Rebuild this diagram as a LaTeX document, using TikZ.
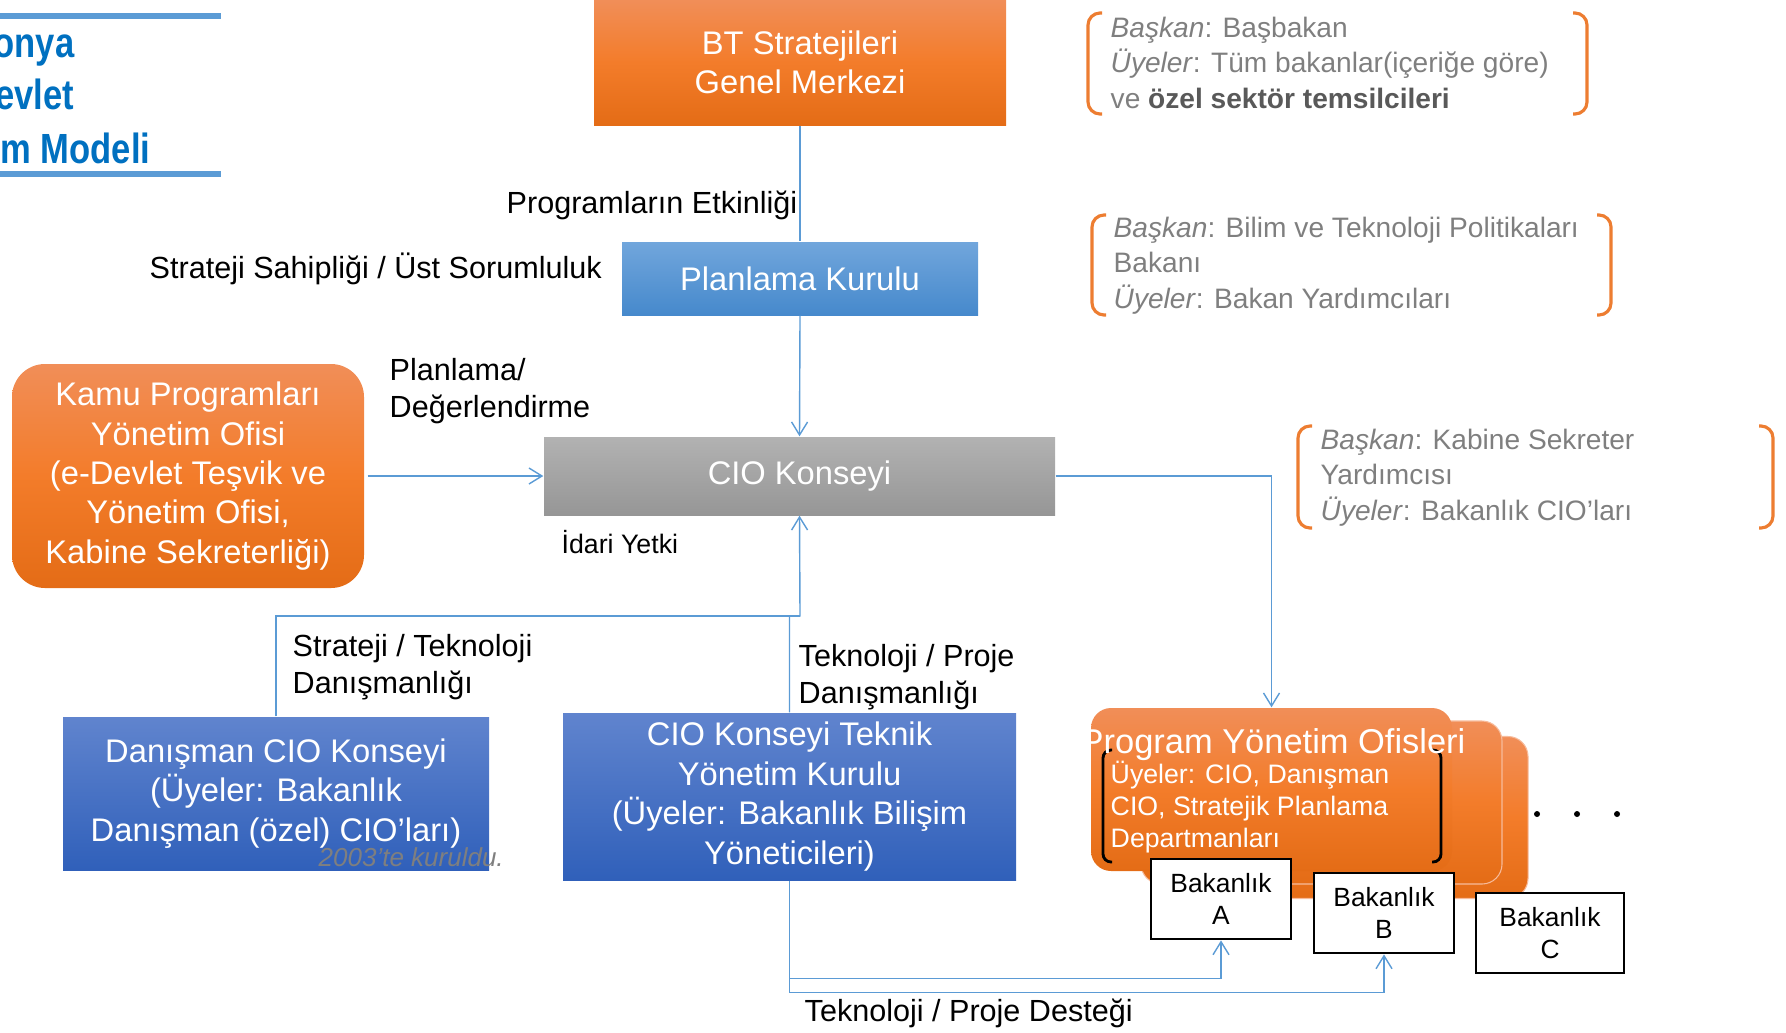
\documentclass[tikz,border=0pt]{standalone}
\usepackage{fontspec}
\setmainfont{Liberation Sans}
\newfontfamily\narrowsans[FakeStretch=0.82]{Liberation Sans}
\usepackage{xcolor}
\usetikzlibrary{shapes,arrows,positioning,calc,arrows.meta}

\definecolor{orTop}{RGB}{241,142,88}
\definecolor{orMid}{RGB}{243,124,42}
\definecolor{orBot}{RGB}{228,108,22}
\definecolor{blTop}{RGB}{113,166,220}
\definecolor{blBot}{RGB}{70,137,204}
\definecolor{dbTop}{RGB}{96,132,206}
\definecolor{dbBot}{RGB}{48,96,186}
\definecolor{gyTop}{RGB}{178,178,178}
\definecolor{gyBot}{RGB}{150,150,150}
\definecolor{lnBlue}{RGB}{91,155,213}
\definecolor{ttlBlue}{RGB}{0,112,192}
\definecolor{noteGray}{RGB}{127,127,127}
\definecolor{noteDark}{RGB}{89,89,89}
\definecolor{brkOrange}{RGB}{237,125,49}

\newcommand\boxtxt{\fontsize{9.3}{11.2}\selectfont}
\newcommand\lbltxt{\fontsize{8.7}{10.3}\selectfont}
\newcommand\notetxt{\fontsize{8}{10}\selectfont}
\newcommand\smalltxt{\fontsize{7.5}{8.9}\selectfont}
\newcommand\uyetxt{\fontsize{7.6}{9}\selectfont}
\newcommand\pyotxt{\fontsize{9.8}{11}\selectfont}
\newcommand\ttltxt{\narrowsans\bfseries\fontsize{12}{15}\selectfont}

\begin{document}
\begin{tikzpicture}[x=0.1mm, y=-0.1mm,
    box/.style={inner sep=0pt, align=center, text=white, font=\boxtxt},
    orbox/.style={box, top color=orTop, bottom color=orBot, middle color=orMid},
    lbbox/.style={box, top color=blTop, bottom color=blBot},
    dbbox/.style={box, top color=dbTop, bottom color=dbBot},
    gybox/.style={box, top color=gyTop, bottom color=gyBot},
    link/.style={draw=lnBlue, line width=0.4pt},
    arr/.style={link, -{Straight Barb[length=1.3mm, width=1.6mm]}},
    lbl/.style={anchor=base west, inner sep=0pt, align=left, font=\lbltxt},
    note/.style={anchor=base west, inner sep=0pt, align=left, font=\notetxt, text=noteGray},
    brk/.style={draw=brkOrange, line width=0.9pt, rounded corners=1.2mm},
    bknbox/.style={draw=black, line width=0.8pt, fill=white, inner sep=0pt, align=center,
        font=\smalltxt, minimum width=14mm, minimum height=8mm}]
    \useasboundingbox (0,0) rectangle (1786,1032);

    % Title (cut at the left edge)
    \draw[lnBlue, line width=0.6mm] (0,16) -- (221,16);
    \draw[lnBlue, line width=0.6mm] (0,174) -- (221,174);
    \node[anchor=base east, inner sep=0pt, font=\ttltxt, text=ttlBlue] (ttlA) at (75,57) {onya};
    \node[anchor=base east, inner sep=0pt, font=\ttltxt, text=ttlBlue] (ttlB) at (75,109) {evlet};
    \node[anchor=base east, inner sep=0pt, font=\ttltxt, text=ttlBlue] (ttlC) at (151,163) {m Modeli};

    % Main boxes
    \node[orbox, minimum width=41.2mm, minimum height=12.5mm] (bt) at (800,62.5) {BT Stratejileri\\Genel Merkezi};
    \node[lbbox, minimum width=35.6mm, minimum height=7.3mm] (plan) at (800,278.5) {Planlama Kurulu};
    \node[gybox, minimum width=51.1mm, minimum height=7.8mm] (cio) at (799.5,476) {CIO Konseyi};
    \node[orbox, rounded corners=3.3mm, minimum width=35.2mm, minimum height=22.4mm] (kamu) at (188,476)
        {Kamu Programları\\Yönetim Ofisi\\(e-Devlet Teşvik ve\\Yönetim Ofisi,\\Kabine Sekreterliği)};
    \node[dbbox, minimum width=42.6mm, minimum height=15.3mm] (dan) at (276,793.5)
        {Danışman CIO Konseyi\\(Üyeler: Bakanlık\\Danışman (özel) CIO’ları)};
    \node[dbbox, minimum width=45.3mm, minimum height=16.7mm] (tyk) at (789.5,796.5)
        {CIO Konseyi Teknik\\Yönetim Kurulu\\(Üyeler: Bakanlık Bilişim\\Yöneticileri)};
    \node[anchor=base west, inner sep=0pt, font=\fontsize{7.4}{9}\selectfont\itshape, text=noteGray] (kur) at (318,866) {2003’te kuruldu.};

    % Program offices (stacked)
    \node[orbox, draw=orTop!60!white, line width=0.3pt, rounded corners=2mm, minimum width=36.1mm, minimum height=16.2mm] (pyoC) at (1347.5,817.5) {};
    \node[orbox, draw=orTop!60!white, line width=0.3pt, rounded corners=2mm, minimum width=36.1mm, minimum height=16.3mm] (pyoB) at (1321.5,802.5) {};
    \node[orbox, rounded corners=2mm, minimum width=36.1mm, minimum height=16.3mm] (pyo) at (1271.5,789.5) {};
    \draw[black, line width=0.8pt, rounded corners=0.8mm] (1112,750) -- (1103,750) -- (1103,862) -- (1112,862);
    \draw[black, line width=0.8pt, rounded corners=0.8mm] (1432,750) -- (1441,750) -- (1441,862) -- (1432,862);
    \node[anchor=base, inner sep=0pt, font=\pyotxt, text=white] (pyoT) at (1273,753) {Program Yönetim Ofisleri};
    \node[anchor=base west, inner sep=0pt, align=left, font=\uyetxt, text=white] (pyoU) at (1110,847)
        {Üyeler: CIO, Danışman\\CIO, Stratejik Planlama\\Departmanları};
    \foreach \dx in {1537,1577,1617} \fill (\dx,814) circle[radius=0.3mm];

    % Ministries
    \node[bknbox] (bkA) at (1221,899) {Bakanlık\\A};
    \node[bknbox] (bkB) at (1384,913) {Bakanlık\\B};
    \node[bknbox, minimum width=14.8mm] (bkC) at (1550,933) {Bakanlık\\C};

    % Connectors
    \coordinate (join) at (800,616);
    \draw[link] (bt.south) -- (plan.north);
    \draw[arr] (plan.south) -- (cio.north);
    \draw[arr, shorten <=0.3mm] (kamu.east) -- (cio.west);
    \draw[arr] (cio.east) -| (pyo.north);
    \draw[link] (dan.north) |- (join);
    \draw[arr] (tyk.north) |- (join) -- (cio.south);
    \draw[arr] (tyk.south) -- ++(0,98) -| (bkA.south);
    \draw[arr] (tyk.south) -- ++(0,112) -| (bkB.south);

    % Connector labels (base = last line)
    \node[lbl] (lbEtk) at (506,213) {Programların Etkinliği};
    \node[lbl] (lbSah) at (149,278) {Strateji Sahipliği / Üst Sorumluluk};
    \node[lbl] (lbPln) at (389,417) {Planlama/\\Değerlendirme};
    \node[lbl, font=\uyetxt] (lbIda) at (561,553) {İdari Yetki};
    \node[lbl] (lbStr) at (292,693) {Strateji / Teknoloji\\Danışmanlığı};
    \node[lbl] (lbTkn) at (798,703) {Teknoloji / Proje\\Danışmanlığı};
    \node[lbl] (lbDst) at (804,1021) {Teknoloji / Proje Desteği};

    % Notes with brackets
    \draw[brk] (1102,13) -- (1088,13) -- (1088,114) -- (1102,114);
    \draw[brk] (1573,13) -- (1587,13) -- (1587,114) -- (1573,114);
    \node[note] (noteBT) at (1110,108)
        {\textit{Başkan}: Başbakan\\\textit{Üyeler}: Tüm bakanlar(içeriğe göre)\\ve {\bfseries\color{noteDark}özel sektör temsilcileri}};
    \draw[brk] (1106,215) -- (1092,215) -- (1092,315) -- (1106,315);
    \draw[brk] (1597,215) -- (1611,215) -- (1611,315) -- (1597,315);
    \node[note] (notePK) at (1113,308)
        {\textit{Başkan}: Bilim ve Teknoloji Politikaları\\Bakanı\\\textit{Üyeler}: Bakan Yardımcıları};
    \draw[brk] (1312,426) -- (1298,426) -- (1298,528) -- (1312,528);
    \draw[brk] (1759,426) -- (1773,426) -- (1773,528) -- (1759,528);
    \node[note] (noteCIO) at (1320,520)
        {\textit{Başkan}: Kabine Sekreter\\Yardımcısı\\\textit{Üyeler}: Bakanlık CIO’ları};
\end{tikzpicture}
\end{document}
